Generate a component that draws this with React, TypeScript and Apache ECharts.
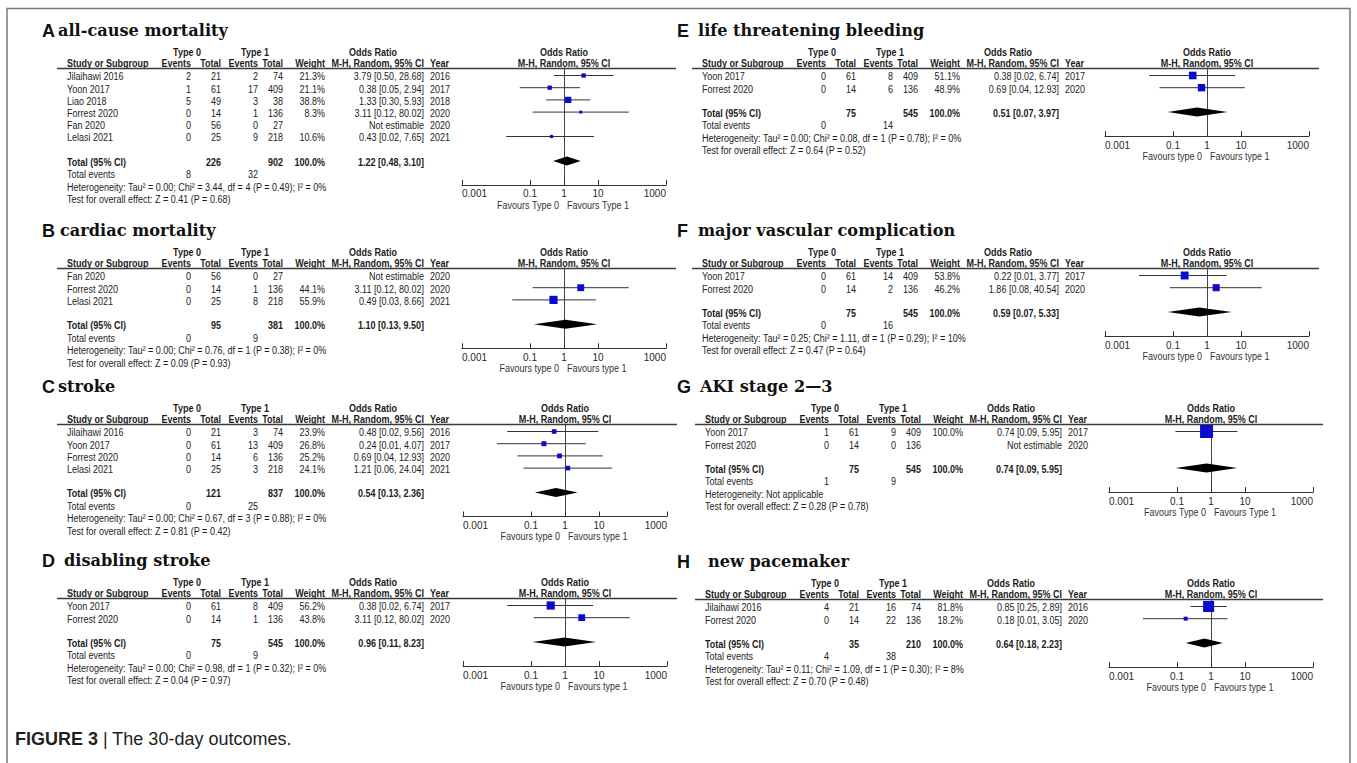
import React, { useEffect, useRef } from "react";
import * as echarts from "echarts";

// name, events0, total0, events1, total1, weight(%), OR, lower, upper, year
type Row = [string, number, number, number, number, number | null, number | null, number | null, number | null, number];

const rowsA: Row[] = [
  ["Jilaihawi 2016", 2, 21, 2, 74, 21.3, 3.79, 0.5, 28.68, 2016],
  ["Yoon 2017", 1, 61, 17, 409, 21.1, 0.38, 0.05, 2.94, 2017],
  ["Liao 2018", 5, 49, 3, 38, 38.8, 1.33, 0.3, 5.93, 2018],
  ["Forrest 2020", 0, 14, 1, 136, 8.3, 3.11, 0.12, 80.02, 2020],
  ["Fan 2020", 0, 56, 0, 27, null, null, null, null, 2020],
  ["Lelasi 2021", 0, 25, 9, 218, 10.6, 0.43, 0.02, 7.65, 2021],
];
const rowsB: Row[] = [
  ["Fan 2020", 0, 56, 0, 27, null, null, null, null, 2020],
  ["Forrest 2020", 0, 14, 1, 136, 44.1, 3.11, 0.12, 80.02, 2020],
  ["Lelasi 2021", 0, 25, 8, 218, 55.9, 0.49, 0.03, 8.66, 2021],
];
const rowsC: Row[] = [
  ["Jilaihawi 2016", 0, 21, 3, 74, 23.9, 0.48, 0.02, 9.56, 2016],
  ["Yoon 2017", 0, 61, 13, 409, 26.8, 0.24, 0.01, 4.07, 2017],
  ["Forrest 2020", 0, 14, 6, 136, 25.2, 0.69, 0.04, 12.93, 2020],
  ["Lelasi 2021", 0, 25, 3, 218, 24.1, 1.21, 0.06, 24.04, 2021],
];
const rowsD: Row[] = [
  ["Yoon 2017", 0, 61, 8, 409, 56.2, 0.38, 0.02, 6.74, 2017],
  ["Forrest 2020", 0, 14, 1, 136, 43.8, 3.11, 0.12, 80.02, 2020],
];
const rowsE: Row[] = [
  ["Yoon 2017", 0, 61, 8, 409, 51.1, 0.38, 0.02, 6.74, 2017],
  ["Forrest 2020", 0, 14, 6, 136, 48.9, 0.69, 0.04, 12.93, 2020],
];
const rowsF: Row[] = [
  ["Yoon 2017", 0, 61, 14, 409, 53.8, 0.22, 0.01, 3.77, 2017],
  ["Forrest 2020", 0, 14, 2, 136, 46.2, 1.86, 0.08, 40.54, 2020],
];
const rowsG: Row[] = [
  ["Yoon 2017", 1, 61, 9, 409, 100.0, 0.74, 0.09, 5.95, 2017],
  ["Forrest 2020", 0, 14, 0, 136, null, null, null, null, 2020],
];
const rowsH: Row[] = [
  ["Jilaihawi 2016", 4, 21, 16, 74, 81.8, 0.85, 0.25, 2.89, 2016],
  ["Forrest 2020", 0, 14, 22, 136, 18.2, 0.18, 0.01, 3.05, 2020],
];

// total0, total1, OR, lower, upper
const totalA = [226, 902, 1.22, 0.48, 3.1];
const totalB = [95, 381, 1.1, 0.13, 9.5];
const totalC = [121, 837, 0.54, 0.13, 2.36];
const totalD = [75, 545, 0.96, 0.11, 8.23];
const totalE = [75, 545, 0.51, 0.07, 3.97];
const totalF = [75, 545, 0.59, 0.07, 5.33];
const totalG = [75, 545, 0.74, 0.09, 5.95];
const totalH = [35, 210, 0.64, 0.18, 2.23];

// total events type 0, type 1
const eventsA = [8, 32];
const eventsB = [0, 9];
const eventsC = [0, 25];
const eventsD = [0, 9];
const eventsE = [0, 14];
const eventsF = [0, 16];
const eventsG = [1, 9];
const eventsH = [4, 38];

const hetTexts = [
  "Heterogeneity: Tau² = 0.00; Chi² = 3.44, df = 4 (P = 0.49); I² = 0%",
  "Heterogeneity: Tau² = 0.00; Chi² = 0.76, df = 1 (P = 0.38); I² = 0%",
  "Heterogeneity: Tau² = 0.00; Chi² = 0.67, df = 3 (P = 0.88); I² = 0%",
  "Heterogeneity: Tau² = 0.00; Chi² = 0.98, df = 1 (P = 0.32); I² = 0%",
  "Heterogeneity: Tau² = 0.00; Chi² = 0.08, df = 1 (P = 0.78); I² = 0%",
  "Heterogeneity: Tau² = 0.25; Chi² = 1.11, df = 1 (P = 0.29); I² = 10%",
  "Heterogeneity: Not applicable",
  "Heterogeneity: Tau² = 0.11; Chi² = 1.09, df = 1 (P = 0.30); I² = 8%",
];
const testTexts = [
  "Test for overall effect: Z = 0.41 (P = 0.68)",
  "Test for overall effect: Z = 0.09 (P = 0.93)",
  "Test for overall effect: Z = 0.81 (P = 0.42)",
  "Test for overall effect: Z = 0.04 (P = 0.97)",
  "Test for overall effect: Z = 0.64 (P = 0.52)",
  "Test for overall effect: Z = 0.47 (P = 0.64)",
  "Test for overall effect: Z = 0.28 (P = 0.78)",
  "Test for overall effect: Z = 0.70 (P = 0.48)",
];
const titles = [
  "all-cause mortality",
  "cardiac mortality",
  "stroke",
  "disabling stroke",
  "life threatening bleeding",
  "major vascular complication",
  "AKI stage 2—3",
  "new pacemaker",
];
const letters = ["A", "B", "C", "D", "E", "F", "G", "H"];
const favoursUpper = ["Favours Type 0", "Favours Type 1"];
const favoursLower = ["Favours type 0", "Favours type 1"];

const tickValues = [0.001, 0.1, 1, 10, 1000];
const tickLabels = ["0.001", "0.1", "1", "10", "1000"];

// ---------- layout (positions / styles) ----------
const panelLayout = [
  { rows: rowsA, total: totalA, events: eventsA, fav: favoursUpper, L: 67, letterX: 42, titleX: 58, U: 68, x1: 564 },
  { rows: rowsB, total: totalB, events: eventsB, fav: favoursLower, L: 67, letterX: 42, titleX: 60, U: 268, x1: 564 },
  { rows: rowsC, total: totalC, events: eventsC, fav: favoursLower, L: 67, letterX: 42, titleX: 58, U: 424, x1: 565 },
  { rows: rowsD, total: totalD, events: eventsD, fav: favoursLower, L: 67, letterX: 42, titleX: 64, U: 598, x1: 565 },
  { rows: rowsE, total: totalE, events: eventsE, fav: favoursLower, L: 702, letterX: 677, titleX: 698, U: 68, x1: 1207 },
  { rows: rowsF, total: totalF, events: eventsF, fav: favoursLower, L: 702, letterX: 677, titleX: 698, U: 268, x1: 1207 },
  { rows: rowsG, total: totalG, events: eventsG, fav: favoursUpper, L: 705, letterX: 677, titleX: 700, U: 424, x1: 1211 },
  { rows: rowsH, total: totalH, events: eventsH, fav: favoursLower, L: 705, letterX: 677, titleX: 708, U: 599, x1: 1211 },
];

const SANS = '"Liberation Sans", Arial, Helvetica, sans-serif';
const SERIF = '"DejaVu Serif", "Liberation Serif", serif';
const SX = 0.82;
const FS = 11;
const PITCH = 12.2;
const FIRST = 7.5;
const DEC = 34;
const TXT = "#1c1c1c";

const lg = (v: number) => Math.round(Math.log10(v) * 1e6) / 1e6;
const fmtOR = (o: number, l: number, h: number) => `${o.toFixed(2)} [${l.toFixed(2)}, ${h.toFixed(2)}]`;

function t(x: number, y: number, text: string, align: string, bold = false, size = FS, fill = TXT, sx = SX) {
  return {
    type: "text",
    x,
    y,
    scaleX: sx,
    silent: true,
    style: {
      text,
      x: 0,
      y: 0,
      align,
      verticalAlign: "middle",
      fontFamily: SANS,
      fontSize: size,
      fontWeight: bold ? "bold" : "normal",
      fill,
    },
  };
}

function buildOption() {
  const graphics: any[] = [];
  const grids: any[] = [];
  const xAxes: any[] = [];
  const yAxes: any[] = [];
  const series: any[] = [];

  graphics.push({
    type: "polyline",
    silent: true,
    shape: { points: [[7, 763], [7, 8.5], [1350, 8.5], [1350, 763]] },
    style: { stroke: "#7a7a7a", lineWidth: 1.5, fill: null },
  });

  panelLayout.forEach((p, i) => {
    const n = p.rows.length;
    const rowY = (k: number) => p.U + FIRST + PITCH * k;
    const totalIdx = n + 1;
    const yT = rowY(totalIdx);
    const L = p.L;
    const c = { ev0: L + 124, tot0: L + 154, ev1: L + 191, tot1: L + 216, w: L + 258, or: L + 357, year: L + 363 };

    // title
    graphics.push({
      type: "text", x: p.letterX, y: p.U - 37, silent: true,
      style: { text: letters[i], fontFamily: SANS, fontWeight: "bold", fontSize: 18, fill: "#111", verticalAlign: "middle", align: "left" },
    });
    graphics.push({
      type: "text", x: p.titleX, y: p.U - 38, scaleX: 0.95, silent: true,
      style: { text: titles[i], fontFamily: SERIF, fontWeight: "bold", fontSize: 17, fill: "#111", verticalAlign: "middle", align: "left" },
    });

    // header rows
    const h1 = p.U - 16;
    const h2 = p.U - 5;
    graphics.push(t(L + 120, h1, "Type 0", "center", true));
    graphics.push(t(L + 188, h1, "Type 1", "center", true));
    graphics.push(t(L + 306, h1, "Odds Ratio", "center", true));
    graphics.push(t(p.x1, h1, "Odds Ratio", "center", true));
    graphics.push(t(L, h2, "Study or Subgroup", "left", true));
    graphics.push(t(c.ev0, h2, "Events", "right", true));
    graphics.push(t(c.tot0, h2, "Total", "right", true));
    graphics.push(t(c.ev1, h2, "Events", "right", true));
    graphics.push(t(c.tot1, h2, "Total", "right", true));
    graphics.push(t(c.w, h2, "Weight", "right", true));
    graphics.push(t(c.or, h2, "M-H, Random, 95% CI", "right", true));
    graphics.push(t(c.year, h2, "Year", "left", true));
    graphics.push(t(p.x1, h2, "M-H, Random, 95% CI", "center", true));
    graphics.push({
      type: "line", silent: true,
      shape: { x1: L - 10, y1: p.U + 0.5, x2: p.x1 + 112, y2: p.U + 0.5 },
      style: { stroke: "#3a3a3a", lineWidth: 1.3 },
    });

    // study rows
    p.rows.forEach((r, k) => {
      const y = rowY(k) + 1;
      graphics.push(t(L, y, r[0], "left"));
      graphics.push(t(c.ev0, y, String(r[1]), "right"));
      graphics.push(t(c.tot0, y, String(r[2]), "right"));
      graphics.push(t(c.ev1, y, String(r[3]), "right"));
      graphics.push(t(c.tot1, y, String(r[4]), "right"));
      if (r[5] != null) graphics.push(t(c.w, y, r[5].toFixed(1) + "%", "right"));
      graphics.push(
        t(c.or, y, r[6] != null ? fmtOR(r[6] as number, r[7] as number, r[8] as number) : "Not estimable", "right")
      );
      graphics.push(t(c.year, y, String(r[9]), "left"));
    });

    // total rows
    const yt = yT + 1;
    graphics.push(t(L, yt, "Total (95% CI)", "left", true));
    graphics.push(t(c.tot0, yt, String(p.total[0]), "right", true));
    graphics.push(t(c.tot1, yt, String(p.total[1]), "right", true));
    graphics.push(t(c.w, yt, "100.0%", "right", true));
    graphics.push(t(c.or, yt, fmtOR(p.total[2], p.total[3], p.total[4]), "right", true));
    graphics.push(t(L, yt + 12.5, "Total events", "left"));
    graphics.push(t(c.ev0, yt + 12.5, String(p.events[0]), "right"));
    graphics.push(t(c.ev1, yt + 12.5, String(p.events[1]), "right"));
    graphics.push(t(L, yt + 25, hetTexts[i], "left"));
    graphics.push(t(L, yt + 37.5, testTexts[i], "left"));
    graphics.push(t(p.x1 - 5, yT + 44, p.fav[0], "right", false, FS, "#333"));
    graphics.push(t(p.x1 + 3, yT + 44, p.fav[1], "left", false, FS, "#333"));

    // forest plot grid
    const yMin = -FIRST / PITCH;
    const yMax = totalIdx + 24 / PITCH;
    grids.push({ left: p.x1 - 3 * DEC, top: p.U, width: 6 * DEC, height: (yMax - yMin) * PITCH, containLabel: false });
    const tickVals = tickValues.map(lg);
    xAxes.push({
      type: "value", gridIndex: i, min: -3, max: 3,
      axisLine: { show: true, onZero: false, lineStyle: { color: "#333", width: 1 } },
      axisTick: { show: true, inside: true, length: 5, customValues: tickVals, lineStyle: { color: "#333", width: 1 } },
      axisLabel: {
        show: true, customValues: tickVals, margin: 4, fontSize: 10, color: "#2a2a2a",
        fontFamily: '"Liberation Sans Narrow", "Liberation Sans", sans-serif',
        alignMinLabel: "left", alignMaxLabel: "right",
        formatter: (v: number) => {
          const j = tickVals.findIndex((tv) => Math.abs(tv - v) < 1e-4);
          return j >= 0 ? tickLabels[j] : "";
        },
      },
      splitLine: { show: false },
    });
    yAxes.push({
      type: "value", gridIndex: i, inverse: true, min: yMin, max: yMax,
      axisLine: { show: true, onZero: true, lineStyle: { color: "#444", width: 1 } },
      axisTick: { show: false }, axisLabel: { show: false }, splitLine: { show: false },
    });

    const studyData = p.rows
      .map((r, k) => (r[6] != null ? [lg(r[7] as number), lg(r[8] as number), lg(r[6] as number), k, r[5] as number] : null))
      .filter((d) => d != null);
    series.push({
      type: "custom", xAxisIndex: i, yAxisIndex: i, silent: true,
      data: studyData,
      renderItem: (params: any, api: any) => {
        const lo = api.coord([api.value(0), api.value(3)]);
        const hi = api.coord([api.value(1), api.value(3)]);
        const ce = api.coord([api.value(2), api.value(3)]);
        const s = 2 + 0.11 * api.value(4);
        return {
          type: "group",
          children: [
            { type: "line", shape: { x1: lo[0], y1: lo[1], x2: hi[0], y2: hi[1] }, style: { stroke: "#333", lineWidth: 1 } },
            { type: "rect", shape: { x: ce[0] - s / 2, y: ce[1] - s / 2, width: s, height: s }, style: { fill: "#0b0bd0" } },
          ],
        };
      },
    });
    series.push({
      type: "custom", xAxisIndex: i, yAxisIndex: i, silent: true,
      data: [[lg(p.total[3]), lg(p.total[4]), lg(p.total[2]), totalIdx]],
      renderItem: (params: any, api: any) => {
        const lo = api.coord([api.value(0), api.value(3)]);
        const hi = api.coord([api.value(1), api.value(3)]);
        const ce = api.coord([api.value(2), api.value(3)]);
        const h = 4.5;
        return {
          type: "polygon",
          shape: { points: [[lo[0], lo[1]], [ce[0], ce[1] - h], [hi[0], hi[1]], [ce[0], ce[1] + h]] },
          style: { fill: "#000" },
        };
      },
    });
  });

  // caption
  graphics.push({
    type: "text", x: 15, y: 739, silent: true,
    style: { text: "FIGURE 3", fontFamily: SANS, fontWeight: "bold", fontSize: 18, fill: "#231f20", verticalAlign: "middle", align: "left" },
  });
  graphics.push({
    type: "text", x: 103, y: 739, silent: true,
    style: { text: "| The 30-day outcomes.", fontFamily: SANS, fontSize: 18, fill: "#231f20", verticalAlign: "middle", align: "left" },
  });

  return {
    animation: false,
    backgroundColor: "#ffffff",
    grid: grids,
    xAxis: xAxes,
    yAxis: yAxes,
    series,
    graphic: { elements: graphics },
  };
}

export default function App() {
  const ref = useRef<HTMLDivElement>(null);
  useEffect(() => {
    document.body.style.margin = "0";
    if (!ref.current) return;
    const chart = echarts.init(ref.current, undefined, { renderer: "svg" });
    chart.setOption(buildOption() as any);
    return () => chart.dispose();
  }, []);
  return <div ref={ref} style={{ position: "absolute", left: 0, top: 0, width: 1357, height: 763, background: "#fff" }} />;
}
